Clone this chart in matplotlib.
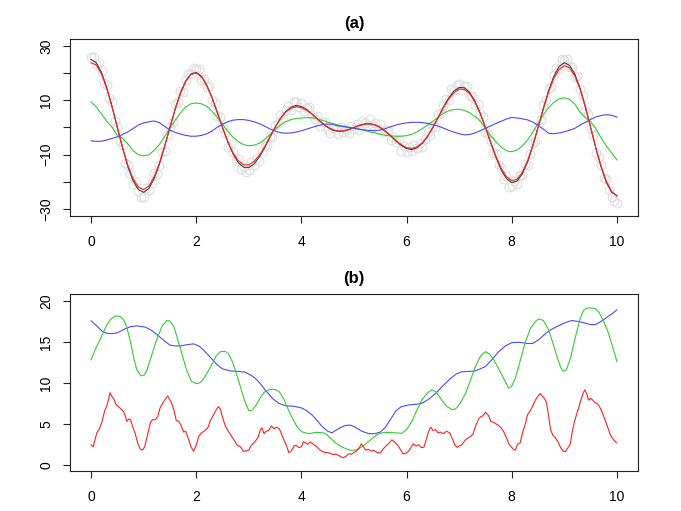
import numpy as np
import matplotlib
matplotlib.use("Agg")
import matplotlib.pyplot as plt

plt.rcParams['font.family'] = ['Liberation Sans', 'DejaVu Sans']

# ---- panel (a): signal, noisy samples and components ----
t = np.linspace(0, 10, 101)
t_obs = np.linspace(0, 10, 201)

signal = [25.0, 23.8, 20.2, 14.6, 7.7, 0.0, -7.6, -14.4, -19.6, -22.8,
          -23.8, -22.4, -18.8, -13.5, -7.0, 0.0, 6.8, 12.7, 17.1, 19.7,
          20.2, 18.8, 15.6, 11.0, 5.6, 0.0, -5.3, -9.7, -12.9, -14.6,
          -14.7, -13.4, -10.8, -7.5, -3.7, 0.0, 3.3, 5.8, 7.4, 8.1,
          7.7, 6.6, 5.0, 3.2, 1.5, 0.0, -1.0, -1.4, -1.3, -0.8,
          0.0, 0.8, 1.3, 1.4, 1.0, 0.0, -1.5, -3.2, -5.0, -6.6,
          -7.7, -8.1, -7.4, -5.8, -3.3, 0.0, 3.7, 7.5, 10.8, 13.4,
          14.7, 14.6, 12.9, 9.7, 5.3, 0.0, -5.6, -11.0, -15.6, -18.8,
          -20.2, -19.7, -17.1, -12.7, -6.8, 0.0, 7.0, 13.5, 18.8, 22.4,
          23.8, 22.8, 19.6, 14.4, 7.6, 0.0, -7.7, -14.6, -20.2, -23.8,
          -25.0]

recon = [23.7, 23.0, 19.6, 14.2, 7.5, 0.0, -7.3, -13.9, -18.8, -21.9,
         -22.8, -21.5, -18.1, -13.1, -6.8, 0.0, 6.7, 12.5, 16.9, 19.5,
         20.0, 18.6, 15.4, 10.9, 5.5, 0.0, -5.1, -9.3, -12.2, -13.7,
         -13.7, -12.5, -10.2, -7.1, -3.5, 0.1, 3.2, 5.6, 7.1, 7.6,
         7.3, 6.3, 4.9, 3.2, 1.6, 0.2, -0.8, -1.3, -1.2, -0.7,
         0.0, 0.7, 1.2, 1.3, 0.9, 0.0, -1.4, -3.0, -4.8, -6.3,
         -7.4, -7.7, -7.1, -5.6, -3.2, 0.0, 3.6, 7.2, 10.4, 12.8,
         14.1, 14.0, 12.4, 9.3, 5.1, 0.0, -5.4, -10.6, -15.0, -18.1,
         -19.5, -19.0, -16.5, -12.3, -6.6, 0.0, 6.7, 13.0, 18.0, 21.4,
         22.7, 21.9, 18.9, 14.0, 7.5, 0.0, -7.5, -14.3, -19.8, -23.5,
         -25.2]

comp_green = [9.4, 7.6, 4.9, 2.3, 0.1, -2.9, -4.0, -6.0, -8.5, -10.0,
              -10.4, -10.0, -8.4, -6.2, -3.3, -0.3, 2.6, 5.4, 7.5, 8.7,
              9.0, 8.7, 7.8, 6.0, 3.7, 1.2, -1.4, -3.6, -5.2, -6.3,
              -6.7, -6.5, -5.8, -4.4, -2.6, -0.7, 0.9, 2.1, 2.9, 3.3,
              3.5, 3.6, 3.6, 3.2, 2.6, 2.0, 1.4, 0.9, 0.5, 0.1,
              -0.3, -0.7, -1.1, -1.6, -2.0, -2.5, -2.9, -3.1, -3.2, -3.2,
              -3.0, -2.5, -1.6, -0.4, 0.9, 2.3, 3.8, 5.2, 6.1, 6.6,
              6.7, 6.3, 5.4, 4.1, 2.3, -0.3, -3.0, -5.3, -7.2, -8.6,
              -8.9, -8.3, -6.8, -4.6, -1.8, 1.5, 4.6, 7.3, 9.2, 10.5,
              10.9, 10.3, 8.6, 5.6, 3.6, 2.1, -0.5, -3.8, -6.8, -9.4,
              -11.9]

comp_blue = [-4.9, -5.1, -5.0, -4.6, -4.0, -3.4, -2.6, -1.6, -0.4, 0.9,
             1.7, 2.1, 2.4, 1.8, 0.4, -0.9, -1.8, -2.4, -2.9, -3.2,
             -3.2, -2.9, -2.3, -1.3, 0.1, 1.2, 2.1, 2.7, 2.9, 2.9,
             2.6, 2.1, 1.4, 0.5, -0.5, -1.3, -1.9, -2.1, -2.0, -1.7,
             -1.2, -0.6, 0.0, 0.6, 1.1, 1.3, 1.1, 0.6, 0.3, 0.0,
             -0.3, -0.6, -0.9, -1.1, -1.2, -0.9, -0.4, 0.3, 0.9, 1.4,
             1.7, 1.9, 1.9, 1.8, 1.5, 1.0, 0.5, -0.2, -1.0, -1.7,
             -2.3, -2.7, -2.6, -2.0, -1.2, -0.3, 0.6, 1.5, 2.3, 3.1,
             3.7, 3.5, 3.2, 2.8, 2.0, 0.8, -0.6, -2.1, -2.3, -2.0,
             -1.6, -1.0, -0.3, 0.9, 1.9, 2.9, 3.9, 4.4, 4.7, 4.5,
             3.8]

observed = [25.8, 25.9, 23.2, 23.8, 20.6, 16.3, 15.5, 10.8, 9.5, 2.3,
            0.3, -4.8, -6.4, -13.1, -13.8, -17.1, -20.7, -19.9, -23.2, -25.4,
            -25.4, -22.4, -23.1, -20.3, -16.7, -17.2, -13.7, -9.0, -8.7, -2.8,
            0.2, 2.1, 8.7, 9.3, 13.5, 12.9, 17.5, 19.7, 19.6, 21.7,
            21.5, 21.3, 17.3, 17.7, 15.0, 15.4, 10.0, 9.0, 4.2, 3.9,
            -0.3, -2.2, -7.2, -6.4, -9.0, -12.2, -11.4, -15.1, -14.4, -16.2,
            -15.6, -12.5, -13.8, -11.3, -12.3, -9.0, -6.3, -6.4, -3.2, -3.5,
            1.0, 1.5, 4.7, 3.5, 6.4, 8.0, 6.6, 9.4, 9.2, 7.5,
            9.1, 6.0, 7.3, 7.7, 4.7, 3.1, 4.1, 0.7, 1.9, 2.0,
            -0.6, -1.9, -0.2, -0.9, -2.5, 0.1, -1.5, -0.5, -2.1, 0.6,
            -0.5, 1.3, -0.8, 2.4, 1.5, 0.6, 3.1, 0.8, 1.6, -0.7,
            1.1, -1.7, -1.1, -1.0, -4.7, -3.4, -5.3, -4.7, -8.5, -6.7,
            -9.0, -7.2, -8.7, -6.3, -7.6, -5.8, -7.2, -4.3, -1.7, -2.7,
            0.5, 0.2, 4.8, 5.3, 8.3, 10.6, 10.1, 14.0, 13.6, 15.7,
            15.8, 13.9, 15.2, 15.3, 11.7, 11.7, 8.1, 8.5, 4.8, 3.9,
            -1.8, -2.4, -4.9, -9.5, -9.5, -13.8, -14.8, -18.8, -17.8, -21.8,
            -21.4, -19.6, -20.6, -17.3, -17.5, -13.4, -13.7, -9.7, -5.7, -4.9,
            0.5, 2.8, 8.4, 10.2, 14.4, 15.0, 19.4, 22.0, 21.6, 25.3,
            24.8, 25.0, 22.2, 22.3, 18.5, 18.8, 14.1, 11.6, 6.2, 4.8,
            -0.2, -2.7, -9.3, -10.9, -13.9, -18.6, -18.9, -22.8, -25.7, -27.1,
            -27.9]

# ---- panel (b): amplitude curves ----
blue_b_x = [0, 0.1, 0.21, 0.3, 0.4, 0.5, 0.62, 0.75, 0.87, 1.03, 1.15, 1.25, 1.38, 1.5,
            1.6, 1.7, 1.82, 1.95, 2.05, 2.14, 2.27, 2.4, 2.5, 2.65, 2.8, 2.93, 3.05,
            3.12, 3.22, 3.31, 3.45, 3.57, 3.7, 3.85, 4.0, 4.1, 4.2, 4.3, 4.39, 4.5,
            4.58, 4.7, 4.83, 4.93, 5.02, 5.15, 5.28, 5.4, 5.5, 5.6, 5.7, 5.8, 5.9,
            6.04, 6.2, 6.29, 6.42, 6.55, 6.7, 6.83, 6.95, 7.05, 7.2, 7.3, 7.4, 7.5,
            7.62, 7.75, 7.88, 8.0, 8.15, 8.3, 8.4, 8.52, 8.64, 8.75, 8.9, 9.02, 9.14,
            9.25, 9.39, 9.5, 9.59, 9.7, 9.8, 9.9, 10.0]
blue_b_y = [17.56, 17.0, 16.3, 16.05, 16.0, 16.1, 16.5, 16.85, 16.95, 16.8, 16.4, 15.9,
            15.2, 14.6, 14.5, 14.5, 14.65, 14.75, 14.5, 14.0, 13.1, 12.2, 11.7, 11.45,
            11.4, 11.3, 10.9, 10.57, 9.9, 9.15, 8.1, 7.5, 7.2, 7.15, 6.95, 6.6, 6.1,
            5.4, 4.7, 4.1, 3.9, 4.4, 4.8, 4.85, 4.6, 4.1, 3.8, 3.8, 4.0, 4.6, 5.6,
            6.6, 7.1, 7.3, 7.4, 7.5, 8.0, 8.7, 9.7, 10.5, 11.1, 11.35, 11.4, 11.45,
            11.7, 12.0, 12.8, 13.8, 14.5, 14.9, 14.95, 14.8, 14.8, 15.3, 16.0, 16.5,
            17.0, 17.35, 17.6, 17.5, 17.3, 17.1, 17.1, 17.5, 17.95, 18.4, 18.9]

green_b_x = [0, 0.09, 0.18, 0.3, 0.38, 0.46, 0.55, 0.62, 0.68, 0.75, 0.82, 0.87, 0.95,
             1.01, 1.06, 1.15, 1.25, 1.35, 1.44, 1.5, 1.57, 1.63, 1.72, 1.82, 1.91,
             2.0, 2.07, 2.14, 2.27, 2.38, 2.46, 2.55, 2.62, 2.7, 2.78, 2.85, 2.92,
             3.0, 3.06, 3.14, 3.22, 3.3, 3.4, 3.5, 3.58, 3.66, 3.74, 3.82, 3.92, 4.0,
             4.08, 4.16, 4.25, 4.35, 4.45, 4.55, 4.64, 4.75, 4.85, 4.96, 5.06, 5.18,
             5.28, 5.38, 5.47, 5.56, 5.66, 5.78, 5.91, 6.0, 6.1, 6.2, 6.29, 6.4, 6.48,
             6.56, 6.67, 6.76, 6.86, 6.93, 7.02, 7.12, 7.22, 7.31, 7.41, 7.5, 7.58,
             7.66, 7.76, 7.85, 7.94, 8.0, 8.07, 8.17, 8.26, 8.36, 8.45, 8.52, 8.6,
             8.7, 8.78, 8.86, 8.93, 8.98, 9.04, 9.12, 9.2, 9.29, 9.36, 9.42, 9.5,
             9.59, 9.66, 9.74, 9.82, 9.9, 10.0]
green_b_y = [12.8, 14.2, 15.4, 17.1, 17.8, 18.15, 18.1, 17.7, 16.8, 15.0, 12.8, 11.6,
             10.85, 10.95, 11.5, 13.3, 15.3, 16.9, 17.6, 17.55, 16.9, 15.7, 13.7, 11.5,
             10.2, 9.9, 10.0, 10.5, 11.9, 13.3, 13.8, 13.85, 13.5, 12.4, 10.8, 9.3,
             7.8, 6.6, 6.65, 7.3, 8.2, 8.9, 9.2, 9.2, 8.9, 8.1, 6.9, 5.8, 4.6, 4.05,
             3.9, 3.8, 3.95, 3.95, 3.85, 3.3, 2.7, 2.25, 1.95, 1.75, 1.85, 2.35, 2.85,
             3.4, 3.8, 3.95, 3.95, 3.9, 3.85, 4.3, 5.3, 6.7, 7.9, 8.8, 9.15, 8.9, 7.9,
             7.15, 6.75, 6.8, 7.5, 8.7, 10.4, 12.0, 13.3, 13.8, 13.5, 12.8, 11.6, 10.5,
             9.35, 9.6, 10.6, 12.9, 15.0, 16.7, 17.5, 17.8, 17.6, 16.5, 14.9, 13.2,
             11.9, 11.4, 11.6, 13.1, 15.3, 17.6, 18.8, 19.1, 19.15, 19.05, 18.6, 17.6,
             16.4, 14.8, 12.6]

red_b_x = [0, 0.04, 0.08, 0.11, 0.16, 0.21, 0.26, 0.3, 0.33, 0.36, 0.4, 0.43, 0.47,
           0.52, 0.57, 0.62, 0.66, 0.68, 0.72, 0.75, 0.8, 0.84, 0.89, 0.94, 0.98, 1.02,
           1.08, 1.13, 1.17, 1.22, 1.27, 1.31, 1.36, 1.41, 1.46, 1.5, 1.54, 1.58, 1.62,
           1.67, 1.72, 1.76, 1.8, 1.84, 1.9, 1.95, 2.0, 2.05, 2.1, 2.17, 2.22, 2.27,
           2.32, 2.37, 2.42, 2.46, 2.5, 2.55, 2.6, 2.66, 2.72, 2.78, 2.84, 2.9, 2.95,
           3.0, 3.05, 3.12, 3.18, 3.22, 3.25, 3.29, 3.33, 3.38, 3.43, 3.48, 3.53, 3.58,
           3.62, 3.67, 3.72, 3.76, 3.81, 3.86, 3.9, 3.95, 4.0, 4.04, 4.08, 4.12, 4.17,
           4.21, 4.25, 4.29, 4.34, 4.39, 4.45, 4.5, 4.55, 4.6, 4.65, 4.71, 4.76, 4.8,
           4.85, 4.9, 4.95, 5.0, 5.05, 5.1, 5.14, 5.18, 5.22, 5.27, 5.32, 5.38, 5.44,
           5.5, 5.55, 5.6, 5.66, 5.72, 5.77, 5.82, 5.88, 5.93, 5.98, 6.04, 6.09, 6.13,
           6.18, 6.23, 6.28, 6.33, 6.38, 6.42, 6.46, 6.5, 6.55, 6.6, 6.64, 6.7, 6.76,
           6.82, 6.87, 6.92, 6.96, 7.01, 7.05, 7.1, 7.15, 7.2, 7.26, 7.31, 7.37, 7.42,
           7.46, 7.5, 7.53, 7.56, 7.6, 7.65, 7.7, 7.75, 7.8, 7.85, 7.9, 7.95, 7.99,
           8.03, 8.07, 8.11, 8.16, 8.21, 8.26, 8.3, 8.35, 8.4, 8.45, 8.49, 8.54, 8.58,
           8.62, 8.66, 8.7, 8.74, 8.78, 8.83, 8.88, 8.93, 8.97, 9.02, 9.07, 9.11, 9.15,
           9.19, 9.23, 9.27, 9.32, 9.36, 9.39, 9.43, 9.46, 9.5, 9.54, 9.58, 9.62, 9.66,
           9.7, 9.75, 9.79, 9.84, 9.88, 9.93, 9.99]
red_b_y = [2.44, 2.2, 3.2, 3.9, 4.4, 5.3, 6.6, 7.2, 7.9, 8.8, 8.3, 8.1, 7.4, 7.1, 6.8,
           6.5, 5.8, 5.3, 5.6, 5.5, 4.5, 3.8, 2.6, 1.9, 1.8, 2.2, 3.8, 5.2, 5.5, 5.5,
           5.9, 6.9, 7.5, 8.0, 8.4, 7.9, 7.4, 6.6, 5.4, 5.3, 4.7, 4.0, 4.1, 3.4, 2.2,
           1.65, 2.4, 3.5, 3.9, 4.2, 4.5, 5.4, 6.0, 6.6, 7.1, 6.8, 5.8, 4.8, 4.2, 3.6,
           3.0, 2.4, 2.2, 1.65, 1.7, 1.8, 2.4, 2.85, 3.4, 4.3, 4.5, 3.8, 4.1, 4.2,
           4.75, 4.4, 4.6, 4.4, 3.8, 3.0, 2.3, 1.5, 1.7, 2.3, 2.4, 2.1, 2.2, 2.8, 2.7,
           2.5, 2.8, 2.6, 2.4, 2.2, 1.9, 1.65, 1.5, 1.5, 1.4, 1.25, 1.3, 1.15, 0.95,
           0.85, 1.05, 1.35, 1.3, 1.5, 1.7, 2.1, 2.55, 2.2, 1.8, 1.9, 1.7, 1.75, 1.5,
           1.45, 1.9, 2.25, 2.6, 3.05, 2.8, 2.5, 1.9, 1.35, 1.4, 1.65, 2.2, 2.55, 2.3,
           2.45, 2.1, 2.15, 3.2, 4.1, 4.6, 4.2, 4.3, 3.9, 4.0, 3.8, 4.1, 3.9, 3.2, 2.4,
           2.15, 2.3, 2.45, 2.9, 3.2, 3.4, 3.7, 4.7, 5.6, 5.9, 6.0, 6.4, 6.2, 6.0, 5.3,
           5.2, 5.0, 4.8, 4.5, 4.0, 3.3, 2.5, 2.2, 1.9, 1.8, 2.5, 2.7, 4.0, 5.0, 6.1,
           6.6, 7.2, 7.9, 8.3, 8.7, 8.4, 8.1, 7.6, 6.0, 4.3, 3.6, 3.3, 2.8, 2.1, 1.7,
           1.6, 2.1, 2.5, 4.0, 5.2, 6.1, 6.9, 8.0, 8.8, 9.15, 8.6, 7.9, 8.1, 7.9, 7.6,
           7.5, 7.2, 6.7, 5.9, 5.2, 4.3, 3.6, 3.1, 2.7]

x_ticks = [0, 2, 4, 6, 8, 10]
ya_ticks = [-30, -20, -10, 0, 10, 20, 30]
ya_labels = ['\u221230', '', '\u221210', '', '10', '', '30']
yb_ticks = [0, 5, 10, 15, 20]

fig = plt.figure(figsize=(6.81, 5.11), dpi=100)
ax1 = fig.add_axes([0.1028, 0.5773, 0.834, 0.3464])
ax2 = fig.add_axes([0.1028, 0.0783, 0.834, 0.3458])

lw = 0.8
ax1.plot(t_obs, observed, 'o', ms=6.3, mfc='none', mec='#dedede', mew=0.8)
ax1.plot(t, signal, color='#404040', lw=lw)
ax1.plot(t, comp_green, color='#33cc33', lw=lw)
ax1.plot(t, comp_blue, color='#4a4aff', lw=lw)
ax1.plot(t, recon, color='#ff2020', lw=lw)
ax1.set_ylim(-32.5, 32.5)
ax1.set_yticks(ya_ticks)
ax1.set_yticklabels(ya_labels)

ax2.plot(blue_b_x, blue_b_y, color='#4a4aff', lw=lw)
ax2.plot(green_b_x, green_b_y, color='#33cc33', lw=lw)
ax2.plot(red_b_x, red_b_y, color='#ff2020', lw=lw)
ax2.set_ylim(-0.75, 20.8)
ax2.set_yticks(yb_ticks)

for ax, title in [(ax1, '(a)'), (ax2, '(b)')]:
    ax.set_xlim(-0.4, 10.4)
    ax.set_xticks(x_ticks)
    ax.set_title(title, fontweight='bold', fontsize=12, pad=8)
    ax.tick_params(axis='both', direction='out', length=5, width=0.8,
                   labelsize=10, color='#222222')
    ax.tick_params(axis='x', pad=9)
    ax.tick_params(axis='y', pad=7)
    for lbl in ax.get_yticklabels():
        lbl.set_rotation(90)
        lbl.set_va('center')
    for s in ax.spines.values():
        s.set_linewidth(0.8)
        s.set_color('#222222')

fig.savefig('out.png', dpi=100)
